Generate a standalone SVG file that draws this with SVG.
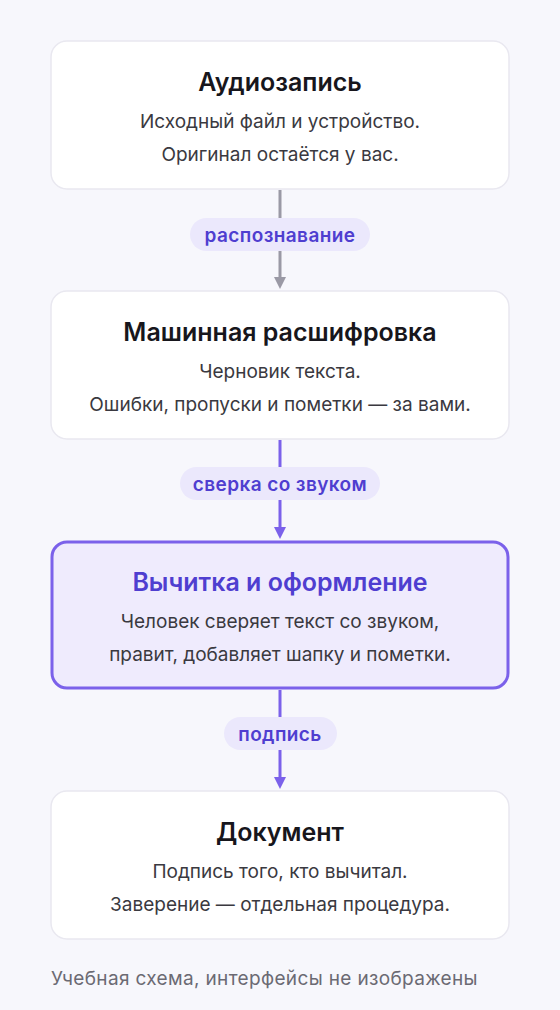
<svg xmlns="http://www.w3.org/2000/svg" width="560" height="1010" viewBox="0 0 560 1010">
<defs>
<style>
.box{fill:#ffffff;stroke:#e9e8f0;stroke-width:1.5}
.hl{fill:#efebfd;stroke:#7b61ea;stroke-width:3}
.t{font-family:Inter,"Noto Sans",sans-serif;font-size:25px;font-weight:600;fill:#17161c;text-anchor:middle}
.th{fill:#4f3ed0}
.s{font-family:Inter,"Noto Sans",sans-serif;font-size:19px;fill:#3a3940;text-anchor:middle}
.pill{fill:#ebe8fc}
.pl{font-family:Inter,"Noto Sans",sans-serif;font-size:19px;font-weight:600;fill:#4f3ed0;text-anchor:middle;letter-spacing:0.4px}
.foot{font-family:Inter,"Noto Sans",sans-serif;font-size:19px;fill:#6b6a73;letter-spacing:0.35px}
</style>
</defs>
<rect width="560" height="1010" fill="#f7f7fc"/>
<g id="connectors">
<g id="c1">
<line x1="280" y1="190" x2="280" y2="278" stroke="#9a99a5" stroke-width="3"/>
<path d="M274 277 L286 277 L280 289 Z" fill="#9a99a5"/>
<rect class="pill" x="190" y="218" width="180" height="33" rx="16.5"/>
<text class="pl" x="280" y="242">распознавание</text>
</g>
<g id="c2">
<line x1="280" y1="440" x2="280" y2="528" stroke="#7b61ea" stroke-width="3"/>
<path d="M274 527 L286 527 L280 539 Z" fill="#7b61ea"/>
<rect class="pill" x="180" y="467" width="200" height="33" rx="16.5"/>
<text class="pl" x="280" y="491">сверка со звуком</text>
</g>
<g id="c3">
<line x1="280" y1="690" x2="280" y2="778" stroke="#7b61ea" stroke-width="3"/>
<path d="M274 777 L286 777 L280 789 Z" fill="#7b61ea"/>
<rect class="pill" x="224" y="717" width="113" height="33" rx="16.5"/>
<text class="pl" x="280" y="741">подпись</text>
</g>
</g>
<g id="n1">
<rect class="box" x="51" y="41" width="458" height="148" rx="16"/>
<text class="t" x="280" y="91">Аудиозапись</text>
<text class="s" x="280" y="128">Исходный файл и устройство.</text>
<text class="s" x="280" y="161">Оригинал остаётся у вас.</text>
</g>
<g id="n2">
<rect class="box" x="51" y="291" width="458" height="148" rx="16"/>
<text class="t" x="280" y="341">Машинная расшифровка</text>
<text class="s" x="280" y="378">Черновик текста.</text>
<text class="s" x="280" y="411">Ошибки, пропуски и пометки — за вами.</text>
</g>
<g id="n3">
<rect class="hl" x="52" y="542" width="456" height="146" rx="15"/>
<text class="t th" x="280" y="591">Вычитка и оформление</text>
<text class="s" x="280" y="628">Человек сверяет текст со звуком,</text>
<text class="s" x="280" y="661">правит, добавляет шапку и пометки.</text>
</g>
<g id="n4">
<rect class="box" x="51" y="791" width="458" height="148" rx="16"/>
<text class="t" x="280" y="841">Документ</text>
<text class="s" x="280" y="878">Подпись того, кто вычитал.</text>
<text class="s" x="280" y="911">Заверение — отдельная процедура.</text>
</g>
<text class="foot" x="51" y="985">Учебная схема, интерфейсы не изображены</text>
</svg>
